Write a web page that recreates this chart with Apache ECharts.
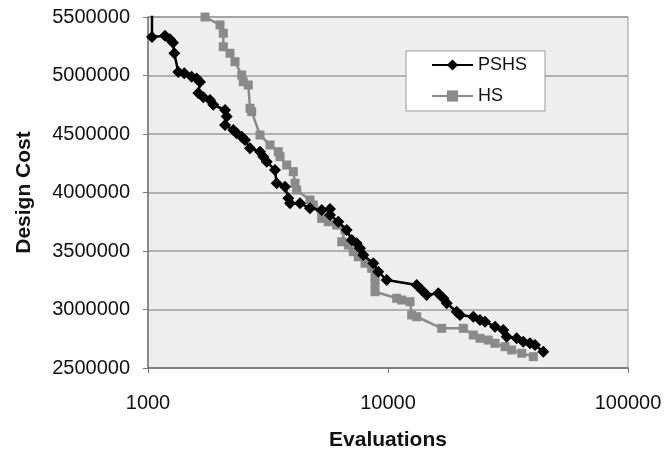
<!DOCTYPE html>
<html>
<head>
<meta charset="utf-8">
<script src="https://cdn.jsdelivr.net/npm/echarts@6/dist/echarts.min.js"></script>
<style>html,body{margin:0;padding:0;background:#fff}#c{width:666px;height:454px}</style>
</head>
<body>
<div id="c"></div>
<script>
var seriesNames = ['PSHS', 'HS'];
var xTickLabels = ['1000', '10000', '100000'];
var yTickLabels = ['2500000', '3000000', '3500000', '4000000', '4500000', '5000000', '5500000'];
var pshsEvals = [1039, 1039, 1177, 1235, 1271, 1287, 1337, 1416, 1521, 1595, 1647, 1620, 1700, 1813, 1871, 2094, 2128, 2094, 2267, 2342, 2457, 2536, 2661, 2929, 3023, 3124, 3382, 3437, 3722, 3843, 3906, 4299, 4732, 5294, 5733, 5733, 6209, 6729, 7061, 7406, 7645, 7889, 8686, 9111, 9875, 13170, 13820, 14490, 16200, 17000, 17570, 19320, 19950, 22670, 24170, 25360, 27920, 30210, 31230, 34370, 36620, 39060, 40980, 44370];
var pshsCost = [5800000, 5330000, 5340000, 5310000, 5280000, 5190000, 5030000, 5020000, 4990000, 4975000, 4945000, 4850000, 4815000, 4790000, 4750000, 4705000, 4650000, 4577000, 4534000, 4506000, 4477000, 4449000, 4378000, 4349000, 4306000, 4263000, 4192000, 4079000, 4050000, 3950000, 3908000, 3908000, 3865000, 3850000, 3860000, 3808000, 3750000, 3679000, 3594000, 3566000, 3523000, 3466000, 3395000, 3323000, 3252000, 3209000, 3167000, 3124000, 3138000, 3096000, 3053000, 2981000, 2953000, 2938000, 2910000, 2896000, 2853000, 2825000, 2768000, 2754000, 2725000, 2711000, 2697000, 2639000];
var hsEvals = [1728, 1995, 2060, 2060, 2196, 2304, 2457, 2495, 2618, 2661, 2704, 2929, 3224, 3491, 3548, 3783, 4031, 4098, 4165, 4732, 4884, 5294, 5638, 6111, 6621, 6412, 6833, 7169, 7519, 8021, 8551, 8830, 8830, 8830, 10870, 11400, 12350, 12550, 13170, 16740, 20600, 22670, 24170, 26170, 27920, 30730, 32750, 36070, 40310];
var hsCost = [5500000, 5432000, 5361000, 5246000, 5190000, 5118000, 5004000, 4947000, 4919000, 4720000, 4691000, 4491000, 4406000, 4349000, 4306000, 4235000, 4178000, 4079000, 4021000, 3936000, 3893000, 3779000, 3750000, 3722000, 3679000, 3579000, 3551000, 3494000, 3451000, 3395000, 3352000, 3280000, 3224000, 3152000, 3096000, 3081000, 3067000, 2953000, 2938000, 2839000, 2839000, 2782000, 2754000, 2739000, 2711000, 2682000, 2654000, 2626000, 2597000];

function pairs(xs, ys) { return xs.map(function (x, i) { return [x, ys[i]]; }); }

var chart = echarts.init(document.getElementById('c'));
var font = 'Liberation Sans, Arial, sans-serif';
chart.setOption({
  animation: false,
  backgroundColor: '#ffffff',
  grid: {
    left: 148, right: 38, top: 17, bottom: 86,
    containLabel: false, outerBoundsMode: 'none',
    show: true, backgroundColor: '#eeeeee', borderColor: '#999999', borderWidth: 1
  },
  legend: {
    orient: 'vertical',
    left: 406, top: 51,
    backgroundColor: '#ffffff',
    borderColor: '#999999', borderWidth: 1,
    padding: [5, 18, 6, 25],
    itemWidth: 41, itemHeight: 14, itemGap: 13,
    textStyle: { fontFamily: font, fontSize: 18, color: '#111111' },
    data: seriesNames
  },
  xAxis: {
    type: 'log', logBase: 10, min: 1000, max: 100000,
    name: 'Evaluations', nameLocation: 'middle', nameGap: 62,
    nameTextStyle: { fontFamily: font, fontSize: 21, fontWeight: 'bold', color: '#111111' },
    axisLine: { lineStyle: { color: '#777777', width: 1.5 } },
    axisTick: { show: true, length: 5, lineStyle: { color: '#777777' } },
    axisLabel: {
      margin: 25, fontFamily: font, fontSize: 20, color: '#111111',
      formatter: function (v) { var i = Math.round(Math.log10(v)) - 3; return xTickLabels[i] || ''; }
    },
    splitLine: { show: false },
    minorTick: { show: false }
  },
  yAxis: {
    type: 'value', min: 2500000, max: 5500000, interval: 500000,
    name: 'Design Cost', nameLocation: 'middle', nameGap: 113, nameRotate: 90,
    nameTextStyle: { fontFamily: font, fontSize: 21, fontWeight: 'bold', color: '#111111' },
    axisLine: { show: true, lineStyle: { color: '#777777', width: 1.5 } },
    axisTick: { show: true, length: 5, lineStyle: { color: '#777777' } },
    axisLabel: {
      margin: 18, fontFamily: font, fontSize: 20, color: '#111111',
      formatter: function (v) { var i = Math.round((v - 2500000) / 500000); return yTickLabels[i] || ''; }
    },
    splitLine: { show: true, lineStyle: { color: '#9a9a9a', width: 1.5 } }
  },
  series: [
    {
      name: seriesNames[1], type: 'line', data: pairs(hsEvals, hsCost),
      symbol: 'rect', symbolSize: 9, clip: true,
      lineStyle: { color: '#8a8a8a', width: 2.5 },
      itemStyle: { color: '#8a8a8a' }, z: 2
    },
    {
      name: seriesNames[0], type: 'line', data: pairs(pshsEvals, pshsCost),
      symbol: 'diamond', symbolSize: 12, clip: true,
      lineStyle: { color: '#000000', width: 2.5 },
      itemStyle: { color: '#000000' }, z: 3
    }
  ]
});
</script>
</body>
</html>
